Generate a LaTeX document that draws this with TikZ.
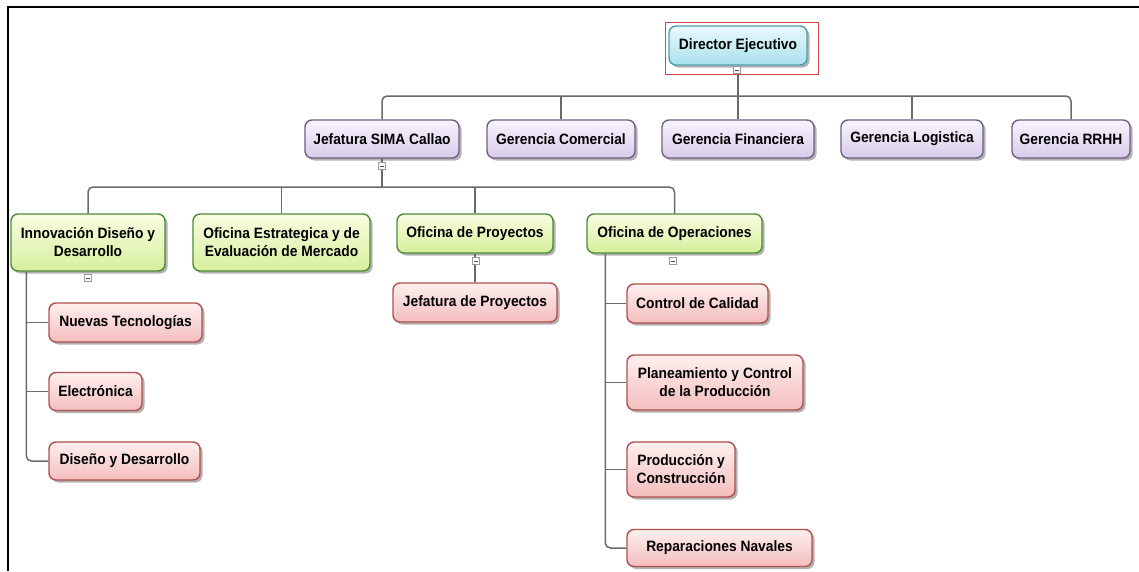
\documentclass[tikz,border=0pt]{standalone}
\usepackage{fontspec}
\setmainfont{Liberation Sans}[FakeStretch=0.92]
\usetikzlibrary{shadows}

\definecolor{dirtop}{HTML}{E8F9FD}
\definecolor{dirbot}{HTML}{A9E1ED}
\definecolor{dirline}{HTML}{4F9FAE}
\definecolor{gertop}{HTML}{F8F4FD}
\definecolor{gerbot}{HTML}{D8CCEA}
\definecolor{gerline}{HTML}{6E6187}
\definecolor{offtop}{HTML}{F8FDE2}
\definecolor{offbot}{HTML}{D6EF9C}
\definecolor{offline}{HTML}{4F8A3A}
\definecolor{unitop}{HTML}{FEEFEF}
\definecolor{unibot}{HTML}{F4BDBD}
\definecolor{uniline}{HTML}{B0504F}
\definecolor{connc}{HTML}{6A6A6A}
\definecolor{selred}{HTML}{D04A4A}

\tikzset{
  box/.style={draw, rounded corners=7pt, line width=1.4pt, inner sep=0pt,
    font=\bfseries\fontsize{15}{18}\selectfont, align=center,
    drop shadow={shadow xshift=2.5pt, shadow yshift=-2.5pt, fill=black!50, opacity=0.6}},
  dirbox/.style={box, draw=dirline, top color=dirtop, bottom color=dirbot},
  gerbox/.style={box, draw=gerline, top color=gertop, bottom color=gerbot},
  offbox/.style={box, draw=offline, top color=offtop, bottom color=offbot},
  unibox/.style={box, draw=uniline, top color=unitop, bottom color=unibot},
  conn/.style={draw=connc, line width=1.5pt},
  minus/.style={draw=gray!80, fill=white, minimum size=7pt, inner sep=0pt, line width=0.6pt,
    path picture={\draw[black!70, line width=0.7pt]
      ([xshift=1.6pt]path picture bounding box.west) -- ([xshift=-1.6pt]path picture bounding box.east);}},
}

\begin{document}
\begin{tikzpicture}[x=1pt, y=-1pt]
\useasboundingbox (0,0) rectangle (1139,571);
\fill[white] (0,0) rectangle (1139,571);

% page frame
\draw[line width=1.8pt] (8,571) -- (8,7) -- (1139,7);

% top
\node[dirbox, minimum width=138pt, minimum height=39pt] (dir) at (738,45.5) {Director Ejecutivo};
\node[draw=selred, line width=0.8pt, minimum width=153pt, minimum height=52pt, inner sep=0pt] (sel) at (741.5,48) {};

% second level
\node[gerbox, minimum width=154pt, minimum height=38pt] (jef)  at (382,139)  {Jefatura SIMA Callao};
\node[gerbox, minimum width=148pt, minimum height=38pt] (com)  at (561,139)  {Gerencia Comercial};
\node[gerbox, minimum width=152pt, minimum height=38pt] (fin)  at (738,139)  {Gerencia Financiera};
\node[gerbox, minimum width=142pt, minimum height=38pt] (log)  at (912,139)  {Gerencia Logistica};
\node[gerbox, minimum width=118pt, minimum height=38pt] (rrhh) at (1071,139) {Gerencia RRHH};

% third level
\node[offbox, minimum width=154pt, minimum height=57pt] (inn)  at (88,242.5)   {Innovación Diseño y\\Desarrollo};
\node[offbox, minimum width=177pt, minimum height=57pt] (est)  at (281.5,242.5) {Oficina Estrategica y de\\Evaluación de Mercado};
\node[offbox, minimum width=156pt, minimum height=39pt] (proy) at (475,233.5)  {Oficina de Proyectos};
\node[offbox, minimum width=175pt, minimum height=39pt] (ope)  at (674.5,233.5) {Oficina de Operaciones};

% units
\node[unibox, minimum width=153pt, minimum height=39pt] (nt)   at (125.5,322.5) {Nuevas Tecnologías};
\node[unibox, minimum width=93pt,  minimum height=38pt] (ele)  at (95.5,391.5)  {Electrónica};
\node[unibox, minimum width=151pt, minimum height=38pt] (dd)   at (124.5,461)   {Diseño y Desarrollo};
\node[unibox, minimum width=164pt, minimum height=39pt] (jp)   at (475,302.5)   {Jefatura de Proyectos};
\node[unibox, minimum width=141pt, minimum height=39pt] (cc)   at (697.5,303.5) {Control de Calidad};
\node[unibox, minimum width=176pt, minimum height=55pt] (plan) at (715,382.5)   {Planeamiento y Control\\de la Producción};
\node[unibox, minimum width=108pt, minimum height=55pt] (prod) at (681,469.5)   {Producción y\\Construcción};
\node[unibox, minimum width=185pt, minimum height=37pt] (rep)  at (719.5,548)   {Reparaciones Navales};

% connectors, first to second level
\coordinate (b2) at (738,96);
\draw[conn] (sel.south -| dir.south) -- (dir.south |- b2);
\draw[conn, rounded corners=5pt] (jef.north) |- (rrhh.north |- b2) -- (rrhh.north);
\draw[conn] (com.north) -- (com.north |- b2);
\draw[conn] (fin.north) -- (fin.north |- b2);
\draw[conn] (log.north) -- (log.north |- b2);

% second to third level
\coordinate (b3) at (382,187);
\draw[conn] (jef.south) -- (jef.south |- b3);
\draw[conn, rounded corners=5pt] (inn.north) |- (ope.north |- b3) -- (ope.north);
\draw[conn] (est.north) -- (est.north |- b3);
\draw[conn] (proy.north) -- (proy.north |- b3);

% project office
\draw[conn] (proy.south) -- (jp.north);

% innovation branch
\coordinate (ls) at ([xshift=16pt]inn.south west);
\draw[conn, rounded corners=5pt] (ls) |- (dd.west);
\draw[conn] (nt.west) -- (nt.west -| ls);
\draw[conn] (ele.west) -- (ele.west -| ls);

% operations branch
\coordinate (os) at ([xshift=19pt]ope.south west);
\draw[conn, rounded corners=5pt] (os) |- (rep.west);
\draw[conn] (cc.west) -- (cc.west -| os);
\draw[conn] (plan.west) -- (plan.west -| os);
\draw[conn] (prod.west) -- (prod.west -| os);

% collapse markers
\node[minus] (m0) at (737,70)  {};
\node[minus] (m1) at (382,166) {};
\node[minus] (m2) at (88,278)  {};
\node[minus] (m3) at (476,261) {};
\node[minus] (m4) at (673,261) {};
\end{tikzpicture}
\end{document}
